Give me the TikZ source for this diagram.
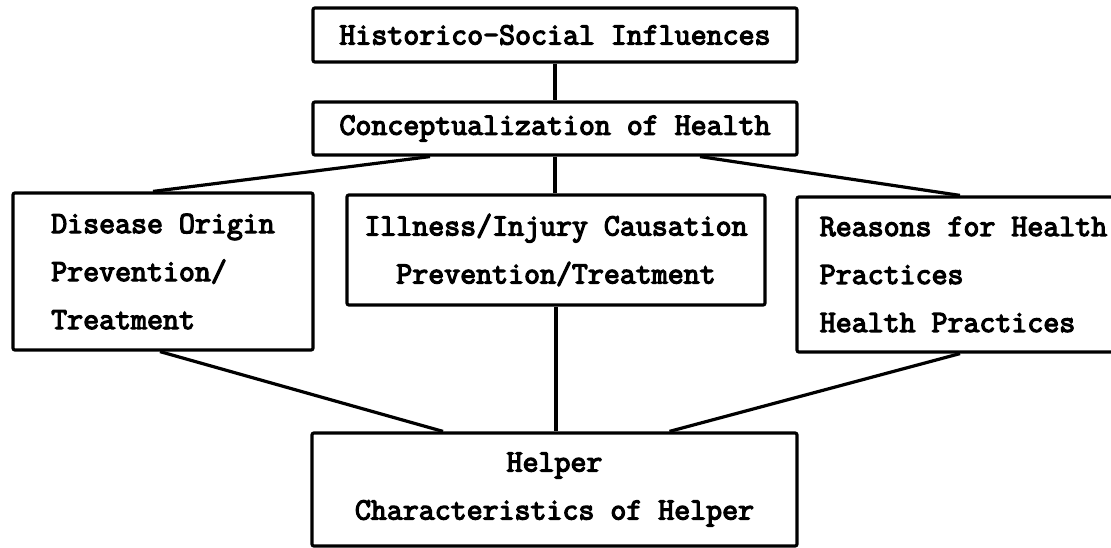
\documentclass[tikz,border=0pt]{standalone}
\usepackage{fontspec}
\newfontfamily\typew{Latin Modern Mono}[FakeBold=4]
\usetikzlibrary{calc}
\tikzset{
  box/.style={draw, line width=3.2pt, rounded corners=2pt, inner sep=0pt,
    font=\typew\fontsize{31}{48}\selectfont},
  conn/.style={line width=3.2pt}
}
\begin{document}
\begin{tikzpicture}[x=1pt,y=-1pt]
\useasboundingbox (0,0) rectangle (1111,548);
\clip (0,0) rectangle (1111,548);
\node[box, minimum width=484, minimum height=54] (top) at (555,35) {Historico-Social Influences};
\node[box, minimum width=484, minimum height=53] (concept) at (555,128.5) {Conceptualization of Health};
\node[box, minimum width=300, minimum height=157, align=left] (dis) at (163,271.5) {Disease Origin\\Prevention/\\Treatment};
\node[box, minimum width=418, minimum height=110, align=center] (ill) at (556,250) {Illness/Injury Causation\\Prevention/Treatment};
\node[box, minimum width=333, minimum height=155, align=left] (rea) at (963.5,274.5) {Reasons for Health\\Practices\\Health Practices};
\node[box, minimum width=485, minimum height=113, align=center] (help) at (554.5,489.5) {Helper\\Characteristics of Helper};
\draw[conn] (top.south) -- (concept.north);
\draw[conn] ([xshift=-125]concept.south) -- ([xshift=-10]dis.north);
\draw[conn] (concept.south) -- (concept.south |- ill.north);
\draw[conn] ([xshift=145]concept.south) -- ([xshift=-3.5]rea.north);
\draw[conn] ([xshift=-3]dis.south) -- ([xshift=-111.5]help.north);
\draw[conn] (ill.south) -- (ill.south |- help.north);
\draw[conn] ([xshift=-3.5]rea.south) -- ([xshift=115]help.north);
\end{tikzpicture}
\end{document}
